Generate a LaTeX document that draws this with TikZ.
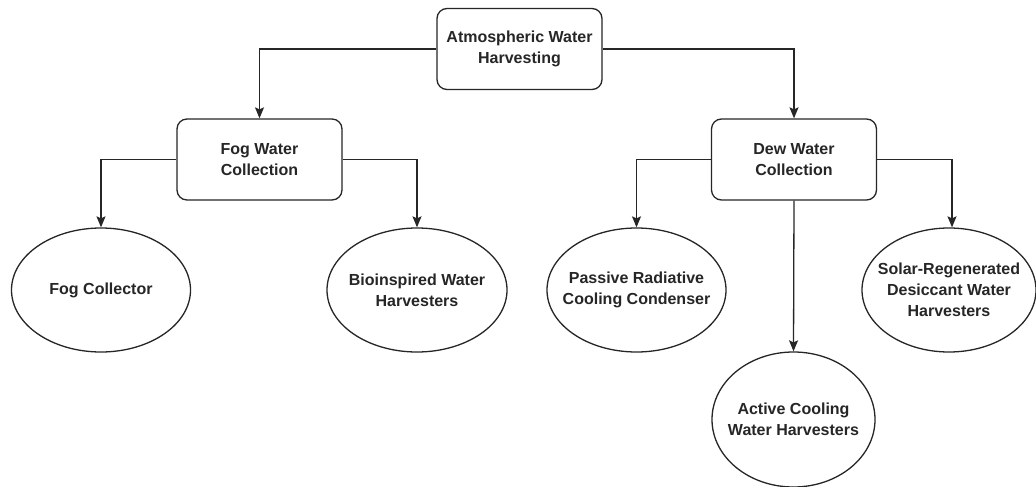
\documentclass[tikz,border=0pt]{standalone}
\usepackage{fontspec}
\setmainfont{Liberation Sans}
\usetikzlibrary{shapes.geometric,arrows.meta}
\tikzset{
  rbox/.style={draw=black!85, line width=1.3pt, rounded corners=10pt, fill=white,
    minimum width=165pt, minimum height=81pt, inner sep=0pt, align=center,
    font=\fontsize{16pt}{21pt}\selectfont\bfseries, text=black!85},
  oval/.style={draw=black!85, line width=1.3pt, ellipse, fill=white,
    inner xsep=-30pt, inner ysep=-10pt, align=center,
    font=\fontsize{16pt}{21pt}\selectfont\bfseries, text=black!85},
  conn/.style={draw=black!85, line width=1.3pt, -{Stealth[length=11pt,width=9pt,inset=2pt]}},
}
\begin{document}
\begin{tikzpicture}[x=1pt,y=-1pt]
\useasboundingbox (0,0) rectangle (1036,487);
\node[rbox] (awh) at (519.5,49) {Atmospheric Water\\Harvesting};
\node[rbox] (fog) at (259.5,159.5) {Fog Water\\Collection};
\node[rbox] (dew) at (794,159.5) {Dew Water\\Collection};
\node[oval, minimum width=179pt, minimum height=124pt] (fc) at (101,290) {Fog Collector};
\node[oval, minimum width=180pt, minimum height=124pt] (bio) at (417,290) {Bioinspired Water\\Harvesters};
\node[oval, minimum width=179pt, minimum height=124pt] (prc) at (636.5,290) {Passive Radiative\\Cooling Condenser};
\node[oval, minimum width=163pt, minimum height=135pt] (acw) at (793.5,419.5) {Active Cooling\\Water Harvesters};
\node[oval, minimum width=174pt, minimum height=124pt] (sol) at (949,290) {Solar-Regenerated\\Desiccant Water\\Harvesters};
\draw[conn] (awh.west) -| (fog.north);
\draw[conn] (awh.east) -| (dew.north);
\draw[conn] (fog.west) -| (fc.north);
\draw[conn] (fog.east) -| (bio.north);
\draw[conn] (dew.west) -| (prc.north);
\draw[conn] (dew.east) -| ([xshift=3pt]sol.north);
\draw[conn] (dew.south) -- (acw.north);
\end{tikzpicture}
\end{document}
